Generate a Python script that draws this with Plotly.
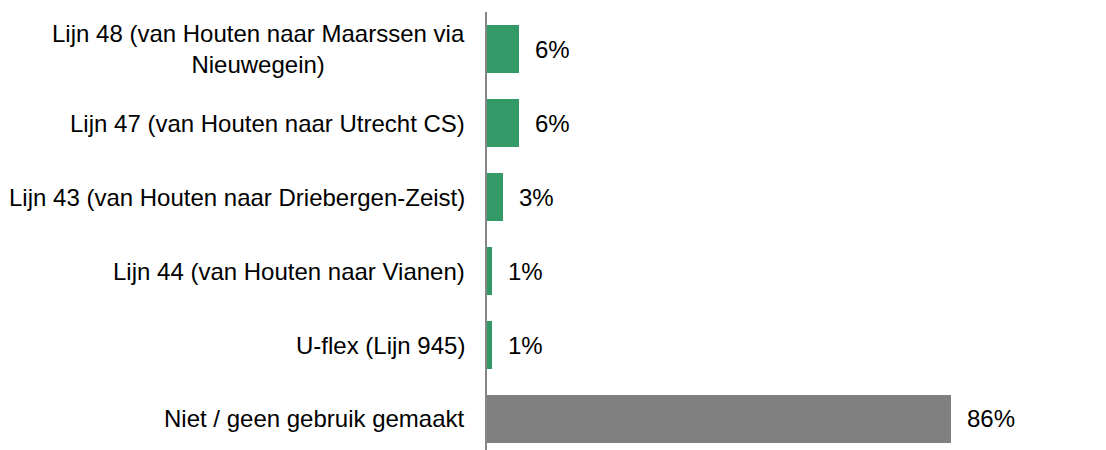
import plotly.graph_objects as go

# Data
categories = [
    "Lijn 48 (van Houten naar Maarssen via<br>Nieuwegein)",
    "Lijn 47 (van Houten naar Utrecht CS)",
    "Lijn 43 (van Houten naar Driebergen-Zeist)",
    "Lijn 44 (van Houten naar Vianen)",
    "U-flex (Lijn 945)",
    "Niet / geen gebruik gemaakt",
]
values = [6, 6, 3, 1, 1, 86]
bar_colors = ["#339966"] * 5 + ["#808080"]

FONT = "Arial, Liberation Sans, sans-serif"

fig = go.Figure()
fig.add_trace(go.Bar(
    y=categories,
    x=values,
    orientation="h",
    marker=dict(color=bar_colors, line=dict(width=0)),
    width=0.66,
    hoverinfo="skip",
))

# categorie-labels links (gecentreerde regels, rechts uitgelijnd blok)
for cat in categories:
    fig.add_annotation(
        x=0, xref="paper", y=cat, yref="y",
        text=cat, showarrow=False,
        xanchor="right", align="center", xshift=-20,
        font=dict(family=FONT, size=24, color="#000000"),
    )

# percentages achter de balken
for cat, v in zip(categories, values):
    fig.add_annotation(
        x=v, xref="x", y=cat, yref="y",
        text=f"{v}%", showarrow=False,
        xanchor="left", xshift=14,
        font=dict(family=FONT, size=24, color="#000000"),
    )

# pagina heeft 8px body-marge, daarom iets kleiner en marges gecorrigeerd
fig.update_layout(
    width=1098, height=442,
    margin=dict(l=479, r=0, t=4, b=0),
    plot_bgcolor="white", paper_bgcolor="white",
    showlegend=False,
    bargap=0,
)
fig.update_xaxes(range=[0, 114.8], visible=False, showgrid=False, zeroline=False)
fig.update_yaxes(
    range=[5.419, -0.5], showticklabels=False, showgrid=False, zeroline=False,
    showline=True, linecolor="#868686", linewidth=2, ticks="",
)

fig.write_html("out.html")
